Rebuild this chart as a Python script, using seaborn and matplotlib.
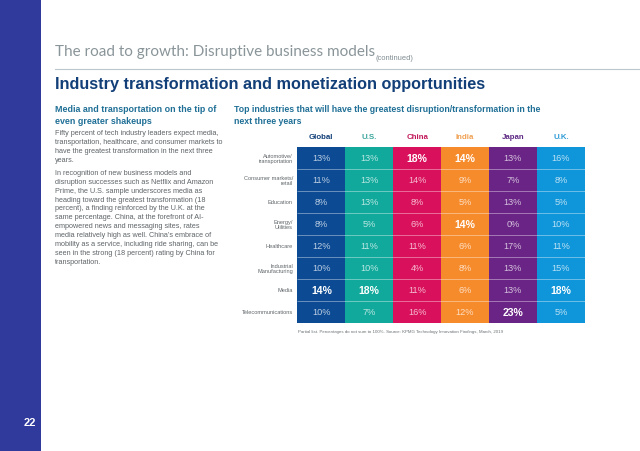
import numpy as np
import pandas as pd
import matplotlib
matplotlib.use('Agg')
import matplotlib.pyplot as plt
import seaborn as sns
from matplotlib.colors import ListedColormap
from matplotlib.patches import Rectangle

plt.rcParams['font.family'] = ['Liberation Sans', 'DejaVu Sans']

regions = ['Global', 'U.S.', 'China', 'India', 'Japan', 'U.K.']
region_colors = ['#0C4B94', '#10A99B', '#D9105B', '#F68B2C', '#6A2485', '#0F95D9']
label_colors = ['#123F78', '#3AA79C', '#C2185B', '#F0A050', '#5E2A84', '#2E9BD6']
industries = ['Automotive/\ntransportation', 'Consumer markets/\nretail', 'Education',
              'Energy/\nUtilities', 'Healthcare', 'Industrial\nManufacturing', 'Media',
              'Telecommunications']
global_vals = [13, 11, 8, 8, 12, 10, 14, 10]
us_vals = [13, 13, 13, 5, 11, 10, 18, 7]
china_vals = [18, 14, 8, 6, 11, 4, 11, 16]
india_vals = [14, 9, 5, 14, 6, 8, 6, 12]
japan_vals = [13, 7, 13, 0, 17, 13, 13, 23]
uk_vals = [16, 8, 5, 10, 11, 15, 18, 5]
# cells set in bold in the table (row, column)
bold_cells = [(0, 2), (0, 3), (3, 3), (6, 0), (6, 1), (6, 5), (7, 4)]

left_paragraphs = [
    ['Fifty percent of tech industry leaders expect media,',
     'transportation, healthcare, and consumer markets to',
     'have the greatest transformation in the next three',
     'years.'],
    ['In recognition of new business models and',
     'disruption successes such as Netflix and Amazon',
     'Prime, the U.S. sample underscores media as',
     'heading toward the greatest transformation (18',
     'percent), a finding reinforced by the U.K. at the',
     'same percentage. China, at the forefront of AI-',
     'empowered news and messaging sites, rates',
     'media relatively high as well. China\u2019s embrace of',
     'mobility as a service, including ride sharing, can be',
     'seen in the strong (18 percent) rating by China for',
     'transportation.'],
]

W, H = 640, 452
values = pd.DataFrame(
    np.array([global_vals, us_vals, china_vals, india_vals, japan_vals, uk_vals]).T,
    index=industries, columns=regions)
col_index = np.tile(np.arange(len(regions)), (len(industries), 1))

fig = plt.figure(figsize=(W / 100, H / 100), dpi=100, facecolor='white')


def put(x, y, s, **kw):
    fig.text(x / W, 1 - y / H, s, va=kw.pop('va', 'center'), **kw)


# sidebar and header rule
fig.add_artist(Rectangle((0, 0), 41 / W, 1, transform=fig.transFigure, color='#2F3A9C', lw=0))
fig.add_artist(plt.Line2D([55 / W, 1], [1 - 69.5 / H] * 2, color='#B9C7CE', lw=0.8))
put(29.5, 423, '22', color='white', fontsize=8, fontweight='bold', ha='center')

put(55, 52, 'The road to growth: Disruptive business models',
    family=['Lato', 'Liberation Sans'], fontweight='normal', fontsize=11, color='#8A9599')
put(376, 59, '(continued)', color='#7F8B90', fontsize=5.4)
put(55, 84.5, 'Industry transformation and monetization opportunities',
    color='#123F78', fontsize=11.7, fontweight='bold')

# left column
put(55, 109, 'Media and transportation on the tip of', color='#1F6F96', fontsize=6.4, fontweight='bold')
put(55, 121, 'even greater shakeups', color='#1F6F96', fontsize=6.4, fontweight='bold')
y = 133.7
for para in left_paragraphs:
    for line in para:
        put(55, y, line, color='#5F6568', fontsize=5.25)
        y += 8.95
    y += 3.7

put(234, 110, 'Top industries that will have the greatest disruption/transformation in the',
    color='#1F6F96', fontsize=6.35, fontweight='bold')
put(234, 121, 'next three years', color='#1F6F96', fontsize=6.35, fontweight='bold')

# table
ax = fig.add_axes([297.4 / W, 1 - 324 / H, 287.4 / W, 176.2 / H])
sns.heatmap(col_index, ax=ax, cmap=ListedColormap(region_colors), vmin=-0.5, vmax=5.5, cbar=False,
            annot=values.map(lambda v: f'{v}%').values, fmt='',
            annot_kws={'fontsize': 6.6, 'color': '#FFFFFF'},
            xticklabels=regions, yticklabels=industries)
for txt, (r, c) in zip(ax.texts, [(r, c) for r in range(8) for c in range(6)]):
    if (r, c) in bold_cells:
        txt.set_fontweight('bold')
        txt.set_fontsize(7.6)
    else:
        txt.set_alpha(0.72)
ax.hlines(np.arange(1, len(industries)), 0, len(regions), color='white', lw=0.6, alpha=0.45)
ax.xaxis.tick_top()
ax.tick_params(length=0)
ax.tick_params(axis='x', pad=5, labelsize=5.7, rotation=0)
ax.tick_params(axis='y', pad=3.2, labelsize=4.1, rotation=0, labelcolor='#5F6568')
for lab, color in zip(ax.get_xticklabels(), label_colors):
    lab.set_color(color)
    lab.set_fontweight('bold')
for lab in ax.get_yticklabels():
    lab.set_linespacing(1.0)
    lab.set_ha('right')

put(298, 332, 'Partial list. Percentages do not sum to 100%. Source: KPMG Technology Innovation Findings, March, 2019',
    color='#6B7174', fontsize=3.15)

fig.savefig('out.png', dpi=100)
